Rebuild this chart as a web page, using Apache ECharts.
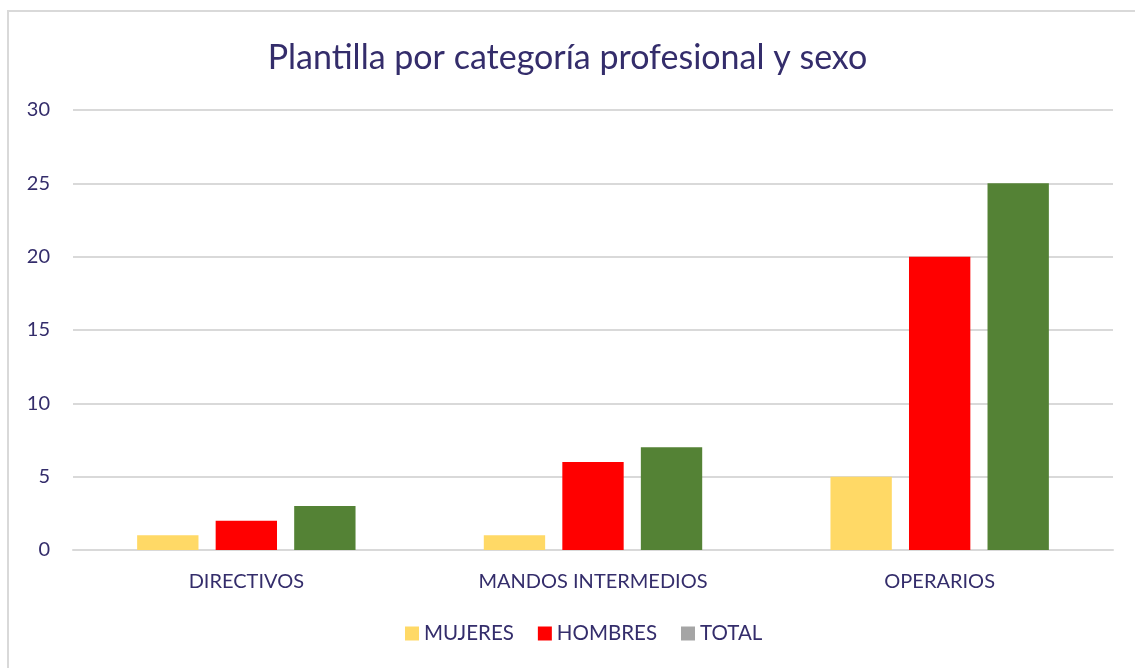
<!DOCTYPE html>
<html>
<head>
<meta charset="utf-8">
<style>
  html, body { margin: 0; padding: 0; background: #fff; }
  #chart { width: 1135px; height: 668px; }
</style>
<script src="https://cdn.jsdelivr.net/npm/echarts@6/dist/echarts.min.js"></script>
</head>
<body>
<div id="chart"></div>
<script>
// datos de la plantilla
const categorias = ['DIRECTIVOS', 'MANDOS INTERMEDIOS', 'OPERARIOS']
const mujeres = [1, 1, 5]
const hombres = [2, 6, 20]
const total = [3, 7, 25]
const yTicks = [0, 5, 10, 15, 20, 25, 30]

const textColor = '#342D6B'
const font = 'Lato, "Open Sans", sans-serif'

const chart = echarts.init(document.getElementById('chart'))
const option = {
  backgroundColor: '#fff',
  animation: false,
  title: {
    text: 'Plantilla por categoría profesional y sexo',
    left: 'center',
    top: 36,
    textStyle: { color: textColor, fontSize: 34, fontWeight: 'normal', fontFamily: font }
  },
  graphic: [{
    type: 'rect',
    shape: { x: 8, y: 11, width: 1200, height: 700 },
    style: { fill: 'none', stroke: '#D9D9D9', lineWidth: 2 },
    silent: true
  }],
  legend: {
    bottom: 19,
    left: 400,
    itemWidth: 14,
    itemHeight: 14,
    itemGap: 24,
    icon: 'rect',
    textStyle: { color: textColor, fontSize: 20.5, fontFamily: font },
    data: [
      { name: 'MUJERES' },
      { name: 'HOMBRES' },
      { name: 'TOTAL', itemStyle: { color: '#A5A5A5' } }
    ]
  },
  grid: { left: 73, right: 22, top: 110, bottom: 118 },
  xAxis: {
    type: 'category',
    data: categorias,
    axisLine: { lineStyle: { color: '#D9D9D9', width: 2 } },
    axisTick: { show: false },
    axisLabel: { color: textColor, fontSize: 20, fontFamily: font, margin: 22 }
  },
  yAxis: {
    type: 'value',
    min: yTicks[0],
    max: yTicks[yTicks.length - 1],
    interval: 5,
    axisLine: { show: false },
    axisTick: { show: false },
    axisLabel: { color: textColor, fontSize: 20, fontFamily: font, margin: 23 },
    splitLine: { lineStyle: { color: '#D9D9D9', width: 2 } }
  },
  series: [
    { name: 'MUJERES', type: 'bar', data: mujeres, itemStyle: { color: '#FFD966' }, barGap: '28%', barCategoryGap: '37%' },
    { name: 'HOMBRES', type: 'bar', data: hombres, itemStyle: { color: '#FF0000' } },
    { name: 'TOTAL', type: 'bar', data: total, itemStyle: { color: '#548235' } }
  ]
}
chart.setOption(option)
</script>
</body>
</html>
